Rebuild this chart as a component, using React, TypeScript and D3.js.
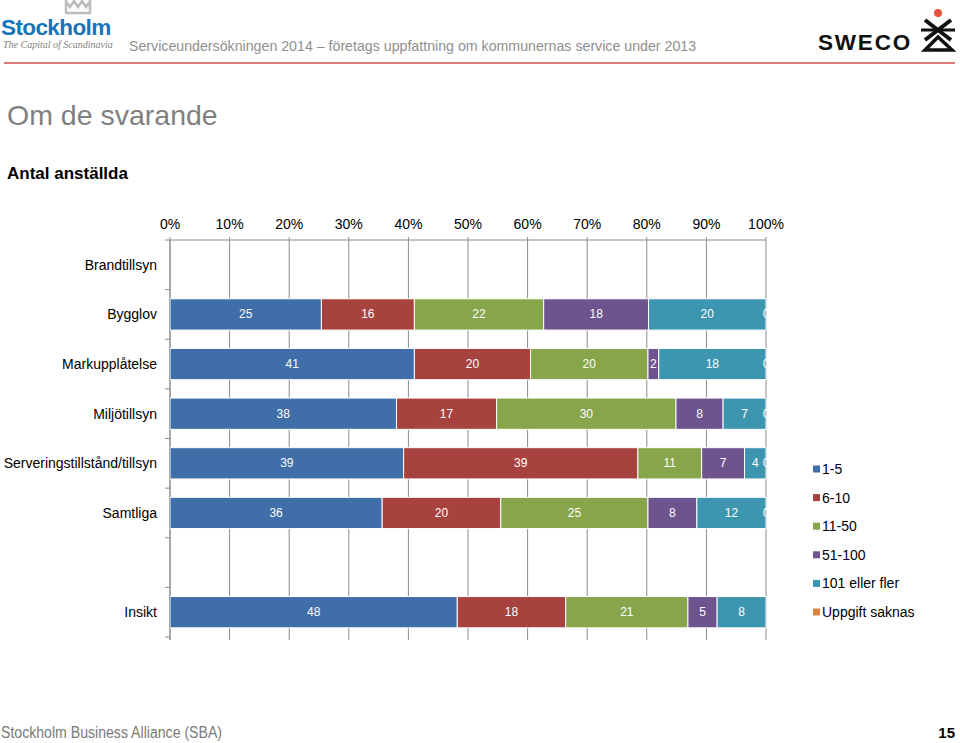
import React from "react";
import * as d3 from "d3";

const categories = [
  "Brandtillsyn",
  "Bygglov",
  "Markupplåtelse",
  "Miljötillsyn",
  "Serveringstillstånd/tillsyn",
  "Samtliga",
  "",
  "Insikt",
];
const seriesNames = ["1-5", "6-10", "11-50", "51-100", "101 eller fler", "Uppgift saknas"];
const seriesColors = ["#3F6EA8", "#A8423F", "#87A54A", "#6E548F", "#3D96B0", "#DB843D"];

const s1_5 = [null, 25.4, 41.0, 38.0, 39.2, 35.6, null, 48.2];
const s6_10 = [null, 15.6, 19.5, 16.8, 39.3, 19.9, null, 18.2];
const s11_50 = [null, 21.7, 19.7, 30.1, 10.7, 24.7, null, 20.5];
const s51_100 = [null, 17.6, 1.8, 7.9, 7.2, 8.2, null, 4.9];
const s101 = [null, 19.7, 18.0, 7.2, 3.6, 11.6, null, 8.2];
const sSaknas = [null, 0, 0, 0, 0, 0, null, null];
const seriesValues = [s1_5, s6_10, s11_50, s51_100, s101, sSaknas];
const tickValues = [0, 0.1, 0.2, 0.3, 0.4, 0.5, 0.6, 0.7, 0.8, 0.9, 1];

const FONT = "'Liberation Sans', Arial, Helvetica, sans-serif";

export default function App() {
  const x = d3.scaleLinear().domain([0, 1]).range([170, 766]);
  const y = d3
    .scaleBand<string>()
    .domain(categories.map((c, i) => String(i)))
    .range([240, 637])
    .paddingInner(0.37)
    .paddingOuter(0.185);
  const step = y.step();
  const bh = y.bandwidth();

  const rows = categories.map((cat, i) => {
    const vals = seriesValues.map((s) => s[i]);
    const total = d3.sum(vals.map((v) => (v == null ? 0 : v)));
    let acc = 0;
    const segs = vals.map((v, k) => {
      if (v == null || total === 0) return null;
      const x0 = acc / total;
      acc += v;
      const x1 = acc / total;
      return { k, v, x0, x1 };
    });
    return { cat, i, segs: segs.filter((s) => s !== null) as { k: number; v: number; x0: number; x1: number }[] };
  });

  const legendY = d3.scaleLinear().domain([0, 5]).range([469, 612]);
  const fmt = d3.format(".0f");

  return (
    <svg
      width={960}
      height={743}
      style={{ position: "absolute", left: 0, top: 0, background: "#fff" }}
      fontFamily={FONT}
    >
      <defs>
        <clipPath id="plotclip">
          <rect x={170} y={230} width={597} height={420} />
        </clipPath>
      </defs>

      {/* Header: Stockholm logo */}
      <g>
        <path
          d="M66,1 L70,7 L74,1 L78,7 L82,1 L86,7 L90,1 L90,13 L66,13 Z"
          fill="none"
          stroke="#bdbdbd"
          strokeWidth={2.5}
        />
        <text x={1} y={35} fontSize={22.5} fontWeight="bold" fill="#1874BA" letterSpacing={-0.6}>
          Stockholm
        </text>
        <text x={3} y={48} fontSize={10} fontStyle="italic" fill="#808080" fontFamily="'Liberation Serif', 'DejaVu Serif', serif">
          The Capital of Scandinavia
        </text>
      </g>
      <text x={129} y={51} fontSize={14.2} fill="#8f8f8f">
        Serviceundersökningen 2014 – företags uppfattning om kommunernas service under 2013
      </text>

      {/* SWECO logo */}
      <g>
        <text x={818} y={50} fontSize={22.5} fontWeight="bold" fill="#111" letterSpacing={1.8}>
          SWECO
        </text>
        <circle cx={938} cy={13} r={4} fill="#E8553F" />
        <line x1={925} y1={20} x2={951} y2={40} stroke="#111" strokeWidth={4} />
        <line x1={951} y1={20} x2={925} y2={40} stroke="#111" strokeWidth={4} />
        <line x1={921} y1={30} x2={955} y2={30} stroke="#111" strokeWidth={3} />
        <path d="M938,37 L925,50 L952,50 Z" fill="none" stroke="#111" strokeWidth={3.5} />
      </g>

      <line x1={4} y1={63} x2={955} y2={63} stroke="#D24B4B" strokeWidth={1.5} />

      <text x={7} y={125} fontSize={28.5} fill="#808080">
        Om de svarande
      </text>
      <text x={7} y={179} fontSize={17} fontWeight="bold" fill="#000">
        Antal anställda
      </text>

      {/* Gridlines */}
      {tickValues.map((t) => (
        <line key={"g" + t} x1={x(t)} x2={x(t)} y1={237} y2={640} stroke="#8c8c8c" strokeWidth={1} />
      ))}
      {/* Top axis */}
      <line x1={x(0)} x2={x(1)} y1={240} y2={240} stroke="#8c8c8c" strokeWidth={1} />
      {tickValues.map((t) => (
        <text key={"t" + t} x={x(t)} y={229} fontSize={14} textAnchor="middle" fill="#000">
          {d3.format(".0%")(t)}
        </text>
      ))}
      {/* Left axis */}
      <line x1={x(0)} x2={x(0)} y1={240} y2={640} stroke="#8c8c8c" strokeWidth={1} />
      {d3.range(categories.length + 1).map((k) => (
        <line
          key={"lt" + k}
          x1={x(0) - 5}
          x2={x(0)}
          y1={240 + k * step}
          y2={240 + k * step}
          stroke="#8c8c8c"
          strokeWidth={1}
        />
      ))}
      {/* Category labels */}
      {rows.map((r) => (
        <text
          key={"c" + r.i}
          x={157}
          y={(y(String(r.i)) as number) + bh / 2 + 5}
          fontSize={14}
          textAnchor="end"
          fill="#000"
        >
          {r.cat}
        </text>
      ))}

      {/* Bars */}
      <g clipPath="url(#plotclip)">
        {rows.map((r) =>
          r.segs.map((s) => (
            <rect
              key={"b" + r.i + "-" + s.k}
              x={x(s.x0)}
              y={y(String(r.i)) as number}
              width={Math.max(0, x(s.x1) - x(s.x0))}
              height={bh}
              fill={seriesColors[s.k]}
              stroke="#fff"
              strokeWidth={1}
            />
          ))
        )}
        {rows.map((r) =>
          r.segs.map((s) => (
            <text
              key={"l" + r.i + "-" + s.k}
              x={(x(s.x0) + x(s.x1)) / 2}
              y={(y(String(r.i)) as number) + bh / 2 + 4}
              fontSize={12}
              textAnchor="middle"
              fill="#fff"
            >
              {fmt(s.v)}
            </text>
          ))
        )}
      </g>

      {/* Legend */}
      {seriesNames.map((n, k) => (
        <g key={"lg" + k}>
          <rect x={813} y={legendY(k) - 3.5} width={7} height={7} fill={seriesColors[k]} />
          <text x={822} y={legendY(k) + 5} fontSize={14} fill="#000">
            {n}
          </text>
        </g>
      ))}

      {/* Footer */}
      <text x={1} y={738} fontSize={16} fill="#7a7a7a" textLength={221} lengthAdjust="spacingAndGlyphs">
        Stockholm Business Alliance (SBA)
      </text>
      <text x={955} y={738} fontSize={15} fontWeight="bold" fill="#000" textAnchor="end">
        15
      </text>
    </svg>
  );
}
